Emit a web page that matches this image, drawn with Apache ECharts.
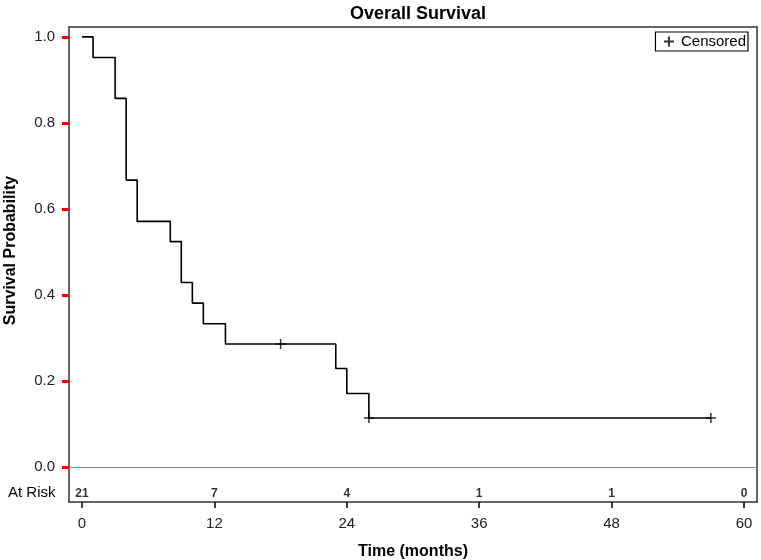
<!DOCTYPE html>
<html>
<head>
<meta charset="utf-8">
<script src="https://cdn.jsdelivr.net/npm/echarts@6/dist/echarts.min.js"></script>
<style>html,body{margin:0;padding:0;background:#fff}#c{width:761px;height:560px}</style>
</head>
<body>
<div id="c"></div>
<script>
// Kaplan-Meier step points (time in months, survival probability)
var kmTimes = [0, 1, 3, 4, 5, 8, 9, 10, 11, 13, 23, 24, 26, 57];
var kmSurv  = [1.0, 0.952, 0.857, 0.667, 0.571, 0.524, 0.429, 0.381, 0.333, 0.286, 0.229, 0.171, 0.114, 0.114];
// censored observations
var censorTimes = [18, 26, 57];
var censorSurv  = [0.286, 0.114, 0.114];
// numbers at risk
var riskTimes  = [0, 12, 24, 36, 48, 60];
var riskCounts = [21, 7, 4, 1, 1, 0];
var riskRowY = -0.063;
// axis ticks
var xTicks = [0, 12, 24, 36, 48, 60];
var yTicks = [0, 0.2, 0.4, 0.6, 0.8, 1.0];

var FONT = 'Liberation Sans, Arial, sans-serif';
var chart = echarts.init(document.getElementById('c'), null, {renderer: 'canvas'});
var plus = 'path://M0,-5L0,5M-5,0L5,0';
var X_MIN = -1.18, X_MAX = 61.18, Y_MIN = -0.0814, Y_MAX = 1.023;
var frameLine = {show: true, onZero: false, lineStyle: {color: '#333', width: 1.5}};

chart.setOption({
  animation: false,
  backgroundColor: '#fff',
  title: {
    text: 'Overall Survival', left: 413, top: 0, textAlign: 'center',
    textStyle: {fontFamily: FONT, fontSize: 18, fontWeight: 'bold', color: '#000'}
  },
  legend: {
    data: [{name: 'Censored', icon: plus}],
    right: 13, top: 32,
    itemWidth: 10, itemHeight: 10, itemGap: 4,
    borderColor: '#000', borderWidth: 1.2, padding: [2, 2, 2, 6],
    textStyle: {fontFamily: FONT, fontSize: 15, color: '#000', padding: [0, 0, 0, 2]}
  },
  grid: {left: 69, right: 4, top: 27, bottom: 58, containLabel: false, outerBoundsMode: 'none'},
  xAxis: [{
    type: 'value', min: X_MIN, max: X_MAX,
    name: 'Time (months)', nameLocation: 'middle', nameGap: 42,
    nameTextStyle: {fontFamily: FONT, fontSize: 16, fontWeight: 'bold', color: '#000'},
    axisLine: frameLine,
    axisTick: {show: true, length: 6, customValues: xTicks, lineStyle: {color: '#000', width: 1.5}},
    axisLabel: {customValues: xTicks, fontFamily: FONT, fontSize: 15, color: '#222', margin: 14},
    splitLine: {show: false}
  }, {
    type: 'value', position: 'top', min: X_MIN, max: X_MAX,
    axisLine: frameLine, axisTick: {show: false}, axisLabel: {show: false}, splitLine: {show: false}
  }],
  yAxis: [{
    type: 'value', min: Y_MIN, max: Y_MAX,
    name: 'Survival Probability', nameLocation: 'middle', nameGap: 50,
    nameTextStyle: {fontFamily: FONT, fontSize: 16, fontWeight: 'bold', color: '#000', padding: [0, 0, 0, 28]},
    axisLine: frameLine,
    axisTick: {show: true, length: 7, customValues: yTicks, lineStyle: {color: '#ff0000', width: 3}},
    axisLabel: {customValues: yTicks, fontFamily: FONT, fontSize: 15, color: '#222', margin: 14,
      formatter: function (v) { return v.toFixed(1); }},
    splitLine: {show: false}
  }, {
    type: 'value', position: 'right', min: Y_MIN, max: Y_MAX,
    axisLine: frameLine, axisTick: {show: false}, axisLabel: {show: false}, splitLine: {show: false}
  }],
  graphic: [{
    type: 'text', left: 8, top: 485,
    style: {text: 'At Risk', font: '15px ' + FONT, fill: '#000'}
  }],
  series: [
    {
      type: 'line', name: 'KM', step: 'end', symbol: 'none',
      data: kmTimes.map(function (t, i) { return [t, kmSurv[i]]; }),
      lineStyle: {color: '#000', width: 1.6},
      markLine: {
        silent: true, symbol: ['none', 'none'], label: {show: false},
        lineStyle: {color: '#888', width: 1, type: 'solid'},
        data: [{yAxis: 0}]
      },
      z: 3
    },
    {
      type: 'scatter', name: 'Censored', symbol: plus, symbolSize: 10,
      data: censorTimes.map(function (t, i) { return [t, censorSurv[i]]; }),
      itemStyle: {color: 'none', borderColor: '#000', borderWidth: 1.5},
      z: 4
    },
    {
      type: 'scatter', name: 'AtRisk', symbolSize: 0,
      data: riskTimes.map(function (t, i) { return [t, riskRowY, riskCounts[i]]; }),
      label: {show: true, position: 'inside', fontFamily: FONT, fontSize: 12, fontWeight: 'bold', color: '#000',
        formatter: function (p) { return p.value[2]; }},
      silent: true
    }
  ]
});
</script>
</body>
</html>
